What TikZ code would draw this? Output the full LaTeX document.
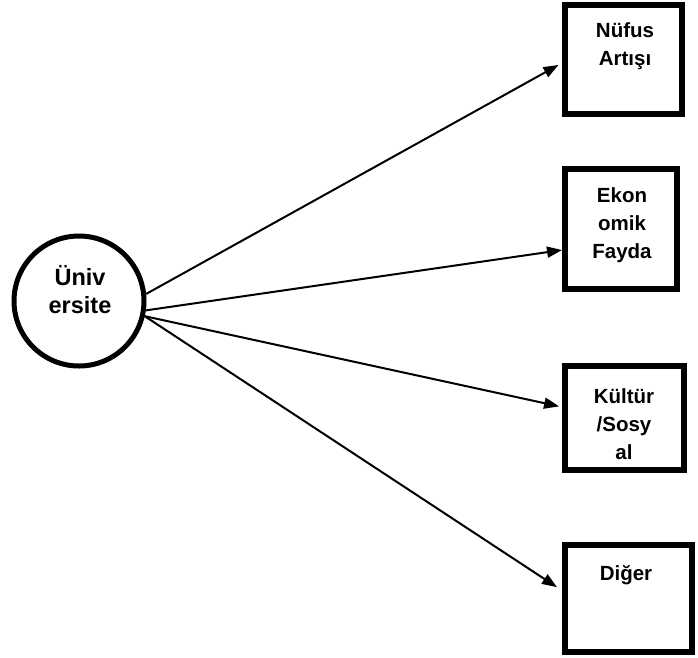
\documentclass[tikz,border=0pt]{standalone}
\usepackage{fontspec}
\setmainfont{Liberation Sans}
\usetikzlibrary{arrows.meta}
\begin{document}
\begin{tikzpicture}[x=1pt,y=-1pt,
  boxnode/.style={draw, line width=6pt, rectangle, inner sep=0pt},
  lbl/.style={font=\bfseries\fontsize{20.5}{28}\selectfont, align=center, inner sep=0pt, anchor=base},
  arr/.style={line width=2pt, -{Triangle[length=15pt,width=11pt]}}]
\useasboundingbox (0,0) rectangle (698,657);
\node[draw, circle, line width=5pt, minimum size=130pt, inner sep=0pt] (u) at (79,301) {};
\node[lbl, font=\bfseries\fontsize{23.5}{28}\selectfont] (ut) at (80,313) {Üniv\\ersite};
\node[boxnode, minimum width=117pt, minimum height=109pt] (b1) at (623.5,59.5) {};
\node[boxnode, minimum width=112pt, minimum height=120pt] (b2) at (621,229) {};
\node[boxnode, minimum width=119pt, minimum height=104pt] (b3) at (624.5,418) {};
\node[boxnode, minimum width=127pt, minimum height=107pt] (b4) at (628.5,598.5) {};
\node[lbl] (t1) at (625,65) {Nüfus\\Artışı};
\node[lbl] (t2) at (622,258) {Ekon\\omik\\Fayda};
\node[lbl] (t3) at (624,459) {Kültür\\/Sosy\\al};
\node[lbl] (t4) at (626,580) {Diğer};
\draw[arr, shorten >=4pt] (u.6) -- ([yshift=-3.5pt]b1.west);
\draw[arr] (u.-8) -- ([yshift=-21pt]b2.west);
\draw[arr, shorten >=3pt] (u.-13) -- ([yshift=11pt]b3.west);
\draw[arr, shorten >=6pt] (u.-13) -- ([yshift=8pt]b4.west);
\end{tikzpicture}
\end{document}
